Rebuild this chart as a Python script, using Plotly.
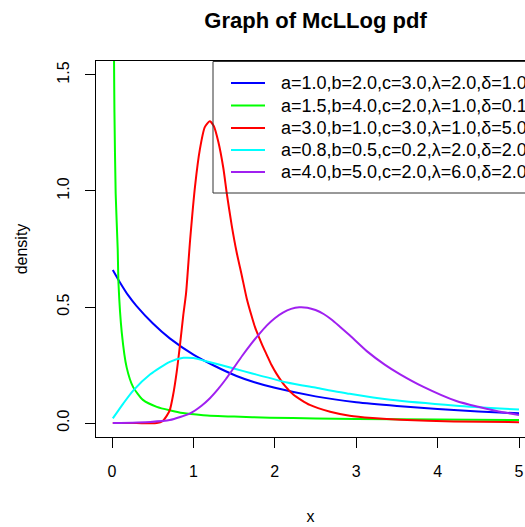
import plotly.graph_objects as go

# ---- data ----
x_blue = [0.01, 0.1, 0.2, 0.3, 0.5, 0.71, 1.0, 1.25, 1.53, 1.75, 2.0, 2.5, 3.0, 3.5, 4.0, 4.5, 5.0]
y_blue = [0.66, 0.605, 0.55, 0.505, 0.43, 0.365, 0.295, 0.248, 0.203, 0.176, 0.152, 0.115, 0.09, 0.074, 0.061, 0.05, 0.042]

x_green = [0.015, 0.025, 0.03, 0.045, 0.07, 0.08, 0.12, 0.18, 0.26, 0.38, 0.55, 0.87, 1.12, 1.5, 1.94, 2.5, 3.0, 4.0, 5.0]
y_green = [2.2, 1.56, 1.34, 0.99, 0.75, 0.60, 0.39, 0.24, 0.155, 0.10, 0.07, 0.043, 0.034, 0.028, 0.023, 0.02, 0.018, 0.015, 0.013]

x_red = [0.01, 0.3, 0.55, 0.62, 0.67, 0.71, 0.75, 0.795, 0.835, 0.876, 0.91, 0.96, 1.02, 1.08, 1.14, 1.20,
         1.25, 1.306, 1.368, 1.41, 1.47, 1.53, 1.593, 1.655, 1.716, 1.76, 1.80, 1.86, 1.90, 1.96, 2.02,
         2.125, 2.23, 2.43, 2.68, 2.92, 3.2, 3.54, 4.2, 5.0]
y_red = [0.0, 0.0, 0.0, 0.008, 0.03, 0.056, 0.12, 0.221, 0.336, 0.466, 0.56, 0.79, 1.02, 1.18, 1.275, 1.30,
         1.28, 1.212, 1.098, 0.99, 0.853, 0.738, 0.638, 0.537, 0.46, 0.41, 0.375, 0.325, 0.295, 0.25, 0.213,
         0.16, 0.122, 0.078, 0.049, 0.032, 0.022, 0.014, 0.007, 0.004]

x_cyan = [0.01, 0.14, 0.26, 0.47, 0.71, 0.876, 1.0, 1.12, 1.53, 1.70, 2.15, 2.51, 2.92, 3.42, 4.23, 5.0]
y_cyan = [0.02, 0.085, 0.14, 0.21, 0.264, 0.281, 0.28, 0.27, 0.232, 0.216, 0.175, 0.152, 0.126, 0.10, 0.075, 0.058]

x_purple = [0.01, 0.47, 0.71, 0.96, 1.10, 1.20, 1.30, 1.40, 1.50, 1.60, 1.70, 1.80, 1.90, 2.00, 2.10, 2.20,
            2.30, 2.40, 2.50, 2.60, 2.70, 2.80, 2.92, 3.13, 3.35, 3.54, 3.82, 4.23, 4.5, 4.75, 5.0]
y_purple = [0.0, 0.005, 0.013, 0.042, 0.075, 0.106, 0.145, 0.19, 0.24, 0.29, 0.337, 0.38, 0.42, 0.452, 0.476, 0.492,
            0.499, 0.497, 0.487, 0.47, 0.445, 0.415, 0.378, 0.31, 0.252, 0.21, 0.157, 0.095, 0.07, 0.05, 0.035]

labels = ["a=1.0,b=2.0,c=3.0,\u03bb=2.0,\u03b4=1.0",
          "a=1.5,b=4.0,c=2.0,\u03bb=1.0,\u03b4=0.1",
          "a=3.0,b=1.0,c=3.0,\u03bb=1.0,\u03b4=5.0",
          "a=0.8,b=0.5,c=0.2,\u03bb=2.0,\u03b4=2.0",
          "a=4.0,b=5.0,c=2.0,\u03bb=6.0,\u03b4=2.0"]
colors = ["#0000FF", "#00FF00", "#FF0000", "#00FFFF", "#A020F0"]

x_ticks = [0, 1, 2, 3, 4, 5]
y_ticks = [0.0, 0.5, 1.0, 1.5]
y_ticktext = ["0.0", "0.5", "1.0", "1.5"]

series = [(x_blue, y_blue), (x_green, y_green), (x_red, y_red), (x_cyan, y_cyan), (x_purple, y_purple)]

FONT = "Liberation Sans, Arial, sans-serif"
W, H = 525, 527
L, T, B = 96, 61, 90
PW = W - L
PH = H - T - B

fig = go.Figure()
for (xs, ys), c, lab in zip(series, colors, labels):
    fig.add_trace(go.Scatter(x=xs, y=ys, mode="lines", name=lab,
                             line=dict(color=c, width=2, shape="spline", smoothing=0.6),
                             showlegend=False))

# manual legend (R style box, clipped at the right edge like the reference)
def px_x(p):
    return (p - L) / PW

def px_y(p):
    return (H - B - p) / PH

shapes = [dict(type="rect", xref="paper", yref="paper",
               x0=px_x(213), x1=px_x(560), y0=px_y(193), y1=px_y(61.5),
               line=dict(color="#333333", width=1), fillcolor="rgba(0,0,0,0)", layer="above")]
annotations = []
rows = [83, 105.5, 128, 150, 172]
for r, c, lab in zip(rows, colors, labels):
    shapes.append(dict(type="line", xref="paper", yref="paper",
                       x0=px_x(231), x1=px_x(265), y0=px_y(r), y1=px_y(r),
                       line=dict(color=c, width=2)))
    annotations.append(dict(xref="paper", yref="paper", x=px_x(279), y=px_y(r),
                            xanchor="left", yanchor="middle", showarrow=False,
                            text=lab, font=dict(family=FONT, size=18, color="#000000")))

fig.update_layout(
    width=W, height=H,
    margin=dict(l=L, r=0, t=T, b=B, autoexpand=False, pad=0),
    paper_bgcolor="white", plot_bgcolor="white",
    title=dict(text="<b>Graph of McLLog pdf</b>", x=px_x(315.5) * PW / W + L / W, xanchor="center",
               y=1 - 20 / H, yanchor="middle", font=dict(family=FONT, size=22, color="#000000")),
    xaxis=dict(range=[(L - 112) / 81.4, (W - 112) / 81.4], tickvals=x_ticks, ticktext=[str(v) for v in x_ticks],
               showgrid=False, zeroline=False, showline=True, linecolor="black", linewidth=1,
               mirror=True, ticks="outside", ticklen=10, tickcolor="black", tickwidth=1,
               ticklabelstandoff=10,
               tickfont=dict(family=FONT, size=16, color="#000000"),
               title=dict(text="x", standoff=31, font=dict(family=FONT, size=16, color="#000000"))),
    yaxis=dict(range=[-0.06, 1.56], tickvals=y_ticks, ticktext=y_ticktext,
               showgrid=False, zeroline=False, showline=True, linecolor="black", linewidth=1,
               ticks="outside", ticklen=10, tickcolor="black", tickwidth=1, tickangle=-90,
               ticklabelstandoff=10,
               tickfont=dict(family=FONT, size=16, color="#000000"),
               title=dict(text="density", standoff=22, font=dict(family=FONT, size=16, color="#000000"))),
    shapes=shapes, annotations=annotations,
)

fig.write_html("out.html")
